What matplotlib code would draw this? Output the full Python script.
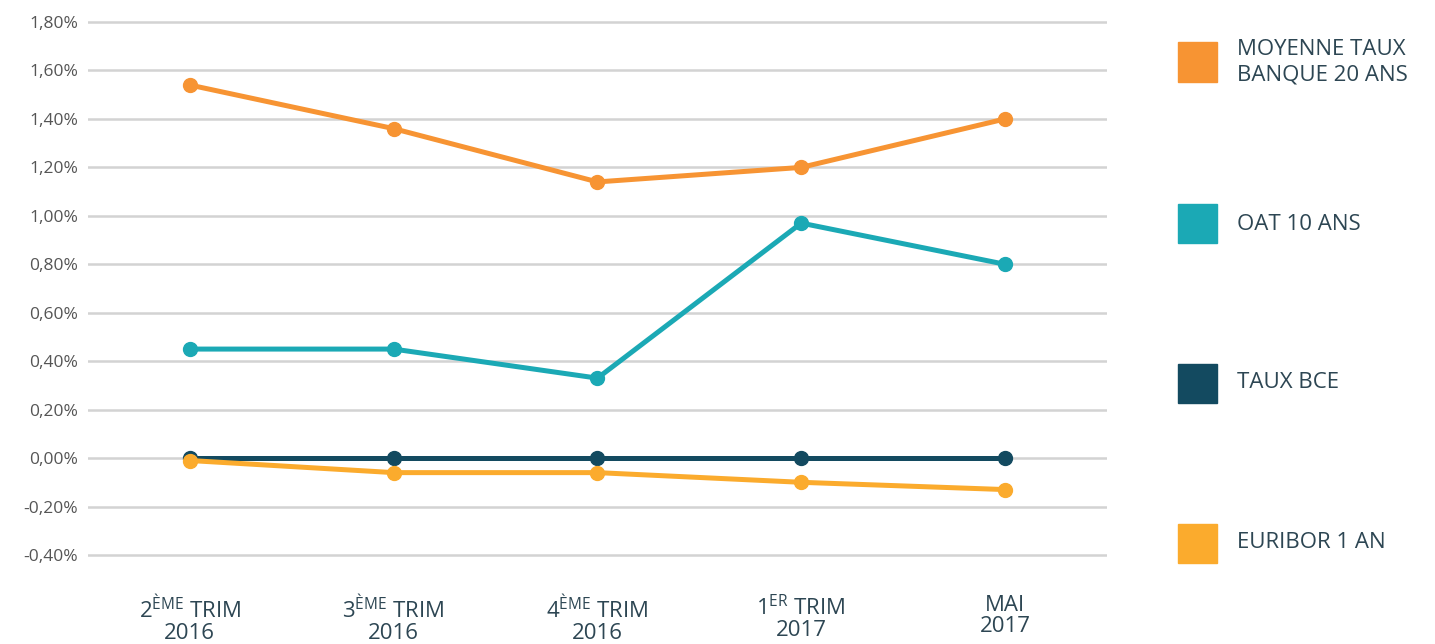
import matplotlib.pyplot as plt
from matplotlib.patches import Rectangle
from matplotlib.ticker import FuncFormatter

plt.rcParams['font.family'] = ['Open Sans', 'DejaVu Sans']
plt.rcParams['mathtext.fontset'] = 'custom'
plt.rcParams['mathtext.rm'] = 'Open Sans'

# data (percent)
periods = [r"2$^{\mathrm{ÈME}}$ TRIM" + "\n2016",
           r"3$^{\mathrm{ÈME}}$ TRIM" + "\n2016",
           r"4$^{\mathrm{ÈME}}$ TRIM" + "\n2016",
           r"1$^{\mathrm{ER}}$ TRIM" + "\n2017",
           "MAI\n2017"]
taux_banque = [1.54, 1.36, 1.14, 1.20, 1.40]
oat_10 = [0.45, 0.45, 0.33, 0.97, 0.80]
taux_bce = [0.0, 0.0, 0.0, 0.0, 0.0]
euribor = [-0.01, -0.06, -0.06, -0.10, -0.13]
y_ticks = [-0.4, -0.2, 0.0, 0.2, 0.4, 0.6, 0.8, 1.0, 1.2, 1.4, 1.6, 1.8]

series = [
    ("MOYENNE TAUX\nBANQUE 20 ANS", taux_banque, "#F79433"),
    ("OAT 10 ANS", oat_10, "#1BA9B5"),
    ("TAUX BCE", taux_bce, "#134A60"),
    ("EURIBOR 1 AN", euribor, "#FBAB2D"),
]
text_col = "#2D4653"

fig = plt.figure(figsize=(14.35, 6.44), dpi=100)
ax = fig.add_axes([0.0613, 0.1307, 0.7101, 0.8426])

x = list(range(len(periods)))
for label, vals, col in series:
    ax.plot(x, vals, color=col, lw=3.6, marker='o', markersize=10,
            solid_capstyle='round', zorder=3)

ax.set_xlim(-0.5, 4.5)
ax.set_ylim(-0.42, 1.82)
ax.set_yticks(y_ticks)
ax.yaxis.set_major_formatter(FuncFormatter(lambda v, p: f"{v:.2f}%".replace('.', ',')))
ax.set_xticks(x)
ax.set_xticklabels(periods, fontsize=16, color=text_col, linespacing=1.0)
ax.tick_params(axis='y', length=0, pad=7, labelsize=12.5, labelcolor="#555555")
ax.tick_params(axis='x', length=0, pad=25)
ax.grid(axis='y', color="#D3D3D3", lw=1.8)
ax.set_axisbelow(True)
for s in ax.spines.values():
    s.set_visible(False)

# legend on the right
leg_y = [62, 224, 383, 543]
for (label, vals, col), yp in zip(series, leg_y):
    yc = 1 - yp / 644
    fig.add_artist(Rectangle((1178 / 1435, yc - 19.5 / 644), 39 / 1435, 39 / 644,
                             transform=fig.transFigure, color=col))
    fig.text(1237 / 1435, yc, label, fontsize=16, color=text_col,
             va='center', ha='left', linespacing=1.3)

fig.savefig("out.png", dpi=100)
